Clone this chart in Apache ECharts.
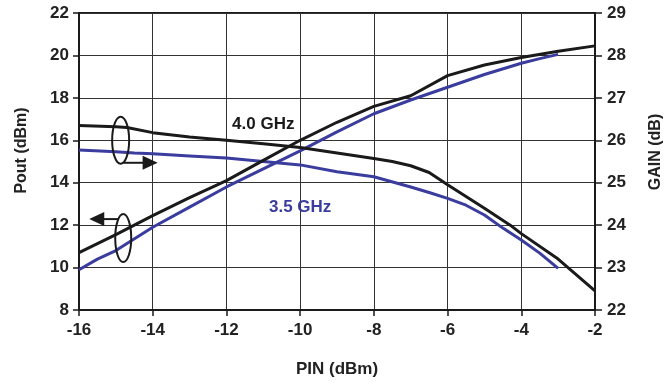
<!DOCTYPE html>
<html>
<head>
<meta charset="utf-8">
<script src="https://cdn.jsdelivr.net/npm/echarts@6/dist/echarts.min.js"></script>
<style>
  html, body { margin: 0; padding: 0; background: #fff; }
  #chart { width: 665px; height: 383px; }
</style>
</head>
<body>
<div id="chart"></div>
<script>
// PIN (dBm) sample points
const pin40 = [-16, -15, -14, -13, -12, -11, -10, -9, -8, -7, -6, -5, -4, -3, -2]
const pout40 = [10.7, 11.55, 12.45, 13.3, 14.1, 15.05, 16.0, 16.85, 17.6, 18.1, 19.05, 19.55, 19.9, 20.2, 20.45]

const pin35 = [-16, -15.5, -15, -14, -13, -12, -11, -10, -9, -8, -7, -6, -5, -4, -3.5, -3]
const pout35 = [9.9, 10.4, 10.8, 11.9, 12.85, 13.8, 14.65, 15.5, 16.4, 17.25, 17.9, 18.5, 19.1, 19.63, 19.85, 20.05]

const gainPin40 = [-16, -15, -14.7, -14, -13, -12, -11, -10, -9, -8, -7.5, -7, -6.5, -6, -5, -4.3, -4, -3, -2]
const gain40 = [26.35, 26.32, 26.3, 26.18, 26.08, 26.0, 25.92, 25.83, 25.7, 25.57, 25.5, 25.4, 25.24, 24.95, 24.4, 24.0, 23.8, 23.2, 22.45]

const gainPin35 = [-16, -15, -14.5, -14, -13, -12, -11, -10, -9, -8, -7, -6.5, -6, -5.5, -5, -4.5, -4, -3.5, -3]
const gain35 = [25.77, 25.73, 25.7, 25.68, 25.63, 25.58, 25.5, 25.42, 25.26, 25.14, 24.9, 24.77, 24.63, 24.47, 24.24, 23.93, 23.65, 23.34, 22.98]

const BLACK = '#1a1a1a'
const BLUE = '#3a3c9e'
const FONT = 'Liberation Sans, Arial, sans-serif'

const pairs = (xs, ys) => xs.map((x, i) => [x, ys[i]])

const chart = echarts.init(document.getElementById('chart'))

const tickLabel = { fontFamily: FONT, fontSize: 17, fontWeight: 'bold', color: '#222' }
const nameStyle = (size, pad) => ({ fontFamily: FONT, fontSize: size, fontWeight: 'bold', color: '#222', padding: pad || 0 })

const option = {
  animation: false,
  grid: {
    left: 79, right: 70, top: 13, bottom: 73,
    containLabel: false, outerBoundsMode: 'none',
    show: true, borderColor: BLACK, borderWidth: 2
  },
  xAxis: {
    type: 'value', min: -16, max: -2, interval: 2,
    name: 'PIN (dBm)', nameLocation: 'middle', nameGap: 51, nameTextStyle: nameStyle(17),
    axisLine: { lineStyle: { color: BLACK, width: 2 } },
    axisTick: { show: true, length: 6, lineStyle: { color: BLACK, width: 1.5 } },
    axisLabel: Object.assign({ margin: 12 }, tickLabel),
    splitLine: { show: true, lineStyle: { color: '#333', width: 1 } }
  },
  yAxis: [
    {
      type: 'value', min: 8, max: 22, interval: 2, position: 'left',
      name: 'Pout (dBm)', nameLocation: 'middle', nameGap: 49, nameRotate: 90,
      nameTextStyle: nameStyle(16, [0, 0, 0, 22]),
      axisLine: { show: true, lineStyle: { color: BLACK, width: 2 } },
      axisTick: { show: true, length: 6, lineStyle: { color: BLACK, width: 1.5 } },
      axisLabel: Object.assign({ margin: 10 }, tickLabel),
      splitLine: { show: true, lineStyle: { color: '#333', width: 1 } }
    },
    {
      type: 'value', min: 22, max: 29, interval: 1, position: 'right',
      name: 'GAIN (dB)', nameLocation: 'middle', nameGap: 53, nameRotate: 90,
      nameTextStyle: nameStyle(16, [0, 0, 0, 19]),
      axisLine: { show: true, lineStyle: { color: BLACK, width: 2 } },
      axisTick: { show: true, length: 7, lineStyle: { color: BLACK, width: 1.5 } },
      axisLabel: Object.assign({ margin: 12 }, tickLabel),
      splitLine: { show: false }
    }
  ],
  series: [
    { name: 'Pout 3.5 GHz', type: 'line', yAxisIndex: 0, data: pairs(pin35, pout35), showSymbol: false, lineStyle: { color: BLUE, width: 3 }, z: 2 },
    { name: 'Gain 3.5 GHz', type: 'line', yAxisIndex: 1, data: pairs(gainPin35, gain35), showSymbol: false, lineStyle: { color: BLUE, width: 3 }, z: 2 },
    { name: 'Pout 4.0 GHz', type: 'line', yAxisIndex: 0, data: pairs(pin40, pout40), showSymbol: false, lineStyle: { color: BLACK, width: 3 }, z: 3 },
    { name: 'Gain 4.0 GHz', type: 'line', yAxisIndex: 1, data: pairs(gainPin40, gain40), showSymbol: false, lineStyle: { color: BLACK, width: 3 }, z: 3 }
  ]
}

chart.setOption(option)

// annotations: ellipses with arrows and frequency labels, placed from data coords
const px = (x, y, axis) => chart.convertToPixel({ xAxisIndex: 0, yAxisIndex: axis }, [x, y])

const e1 = px(-14.87, 16.0, 0)   // gain marker (arrow right)
const e2 = px(-14.8, 11.39, 0)   // pout marker (arrow left)
const t40 = px(-11.0, 16.75, 0)
const t35 = px(-10.0, 12.85, 0)

const arrowHead = (tipX, tipY, dir) => ({
  type: 'polygon',
  shape: { points: [[tipX, tipY], [tipX - dir * 15, tipY - 7], [tipX - dir * 15, tipY + 7]] },
  style: { fill: BLACK },
  z: 10
})

chart.setOption({
  graphic: [
    { type: 'ellipse', shape: { cx: e1[0], cy: e1[1], rx: 8.5, ry: 23.5 }, style: { fill: 'none', stroke: BLACK, lineWidth: 2 }, z: 10 },
    { type: 'line', shape: { x1: e1[0] + 3, y1: e1[1] + 22.5, x2: e1[0] + 24, y2: e1[1] + 22.5 }, style: { stroke: BLACK, lineWidth: 2 }, z: 10 },
    arrowHead(e1[0] + 37, e1[1] + 22.5, 1),
    { type: 'ellipse', shape: { cx: e2[0], cy: e2[1], rx: 8, ry: 24 }, style: { fill: 'none', stroke: BLACK, lineWidth: 2 }, z: 10 },
    { type: 'line', shape: { x1: e2[0] - 5, y1: e2[1] - 19, x2: e2[0] - 22, y2: e2[1] - 19 }, style: { stroke: BLACK, lineWidth: 2 }, z: 10 },
    arrowHead(e2[0] - 34, e2[1] - 19, -1),
    { type: 'text', x: t40[0], y: t40[1], style: { text: '4.0 GHz', fill: BLACK, font: 'bold 17px ' + FONT, align: 'center', verticalAlign: 'middle' }, z: 10 },
    { type: 'text', x: t35[0], y: t35[1], style: { text: '3.5 GHz', fill: BLUE, font: 'bold 17px ' + FONT, align: 'center', verticalAlign: 'middle' }, z: 10 }
  ]
})
</script>
</body>
</html>
